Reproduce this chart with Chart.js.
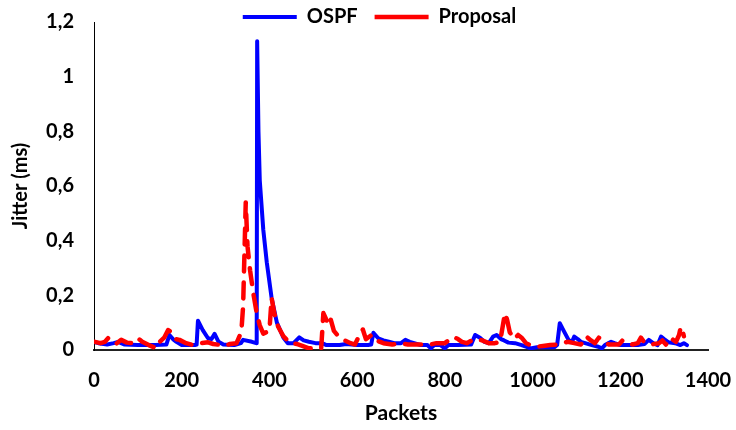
<!DOCTYPE html>
<html>
<head>
<meta charset="utf-8">
<script src="https://cdn.jsdelivr.net/npm/chart.js@4.4.1/dist/chart.umd.min.js"></script>
<style>
    html, body { margin: 0; padding: 0; background: #fff; }
    #wrap { width: 736px; height: 430px; }
</style>
</head>
<body>
<div id="wrap"><canvas id="jitter-chart" width="736" height="430"></canvas></div>
<script>
// Jitter per packet, OSPF vs. proposed routing

const ospfPackets = [
    0, 10, 30, 45, 55, 70, 100, 140, 165, 172, 180, 188, 200, 230, 234, 237, 248, 260, 268, 275,
    284, 295, 320, 335, 340, 360, 370, 371, 372, 375, 378, 386, 394, 405, 417, 432, 442, 455, 468, 478,
    490, 505, 520, 530, 560, 575, 600, 625, 632, 637, 648, 660, 672, 685, 700, 710, 720, 730, 745, 760,
    768, 776, 790, 800, 808, 830, 860, 869, 880, 890, 900, 910, 918, 928, 935, 945, 960, 975, 985, 995,
    1010, 1050, 1056, 1062, 1072, 1082, 1090, 1095, 1103, 1110, 1120, 1135, 1150, 1158, 1165, 1179, 1187, 1200, 1240, 1255,
    1265, 1275, 1285, 1293, 1300, 1310, 1325, 1337, 1345, 1352
];
const ospfJitter = [
    0.03, 0.025, 0.02, 0.025, 0.03, 0.02, 0.018, 0.018, 0.02, 0.055, 0.04, 0.03, 0.018, 0.018, 0.02, 0.107, 0.073, 0.043, 0.04, 0.059,
    0.03, 0.02, 0.018, 0.025, 0.037, 0.03, 0.025, 0.03, 1.13, 0.8, 0.62, 0.44, 0.32, 0.19, 0.10, 0.045, 0.025, 0.025, 0.046, 0.035,
    0.03, 0.025, 0.025, 0.018, 0.018, 0.022, 0.018, 0.018, 0.02, 0.063, 0.043, 0.035, 0.03, 0.025, 0.025, 0.037, 0.03, 0.025, 0.018, 0.018,
    0.006, 0.018, 0.018, 0.006, 0.018, 0.018, 0.02, 0.055, 0.045, 0.03, 0.025, 0.049, 0.055, 0.04, 0.035, 0.027, 0.025, 0.018, 0.012, 0.006,
    0.01, 0.01, 0.018, 0.098, 0.067, 0.037, 0.03, 0.049, 0.04, 0.03, 0.025, 0.018, 0.012, 0.006, 0.018, 0.03, 0.025, 0.018, 0.018, 0.022,
    0.037, 0.025, 0.018, 0.049, 0.04, 0.028, 0.025, 0.018, 0.025, 0.018
];

const proposalPackets = [
    0, 15, 25, 32, 40, 50, 62, 75, 88, 100, 110, 125, 142, 150, 160, 169, 176, 185, 195, 210,
    225, 245, 260, 272, 290, 298, 310, 325, 336, 340, 346, 350, 356, 363, 371, 378, 386, 400, 405, 411,
    420, 432, 447, 462, 475, 490, 505, 518, 523, 530, 535, 540, 547, 560, 572, 585, 595, 607, 613, 620,
    633, 644, 660, 680, 700, 716, 743, 760, 781, 800, 819, 830, 839, 850, 864, 875, 885, 900, 914, 926,
    937, 942, 948, 958, 967, 975, 985, 994, 1010, 1024, 1040, 1055, 1069, 1080, 1095, 1110, 1122, 1133, 1142, 1151,
    1163, 1174, 1185, 1197, 1205, 1213, 1228, 1240, 1247, 1254, 1270, 1288, 1296, 1304, 1315, 1322, 1327, 1334, 1338, 1342,
    1345
];
const proposalJitter = [
    0.03, 0.025, 0.03, 0.043, 0.03, 0.022, 0.037, 0.027, 0.025, 0.043, 0.03, 0.018, 0.006, 0.03, 0.045, 0.073, 0.065, 0.04, 0.037, 0.025,
    0.018, 0.025, 0.028, 0.022, 0.018, 0.015, 0.022, 0.025, 0.067, 0.16, 0.54, 0.38, 0.29, 0.21, 0.135, 0.09, 0.06, 0.07, 0.19, 0.135,
    0.085, 0.05, 0.025, 0.022, 0.015, 0.006, 0.006, 0.006, 0.135, 0.11, 0.09, 0.11, 0.07, 0.045, 0.035, 0.025, 0.02, 0.06, 0.075, 0.04,
    0.055, 0.035, 0.025, 0.02, 0.025, 0.02, 0.02, 0.018, 0.025, 0.025, 0.048, 0.04, 0.03, 0.025, 0.037, 0.04, 0.035, 0.025, 0.025, 0.03,
    0.135, 0.11, 0.065, 0.04, 0.055, 0.045, 0.025, 0.018, 0.012, 0.015, 0.018, 0.02, 0.025, 0.03, 0.025, 0.02, 0.05, 0.035, 0.025, 0.045,
    0.03, 0.02, 0.02, 0.02, 0.035, 0.028, 0.02, 0.025, 0.045, 0.03, 0.02, 0.025, 0.035, 0.02, 0.045, 0.035, 0.03, 0.055, 0.085, 0.07,
    0.05
];

const seriesNames = ['OSPF', 'Proposal'];
const yTickLabels = ['0', '0,2', '0,4', '0,6', '0,8', '1', '1,2'];
const xTickLabels = ['0', '200', '400', '600', '800', '1000', '1200', '1400'];

const FONT = 'Lato, "Open Sans", sans-serif';

function toPoints(xs, ys) {
    return xs.map((x, i) => ({ x: x, y: ys[i] }));
}

// Legend sits partly over the top of the plot and a bit right of centre
const legendPlacement = {
    id: 'legendPlacement',
    afterLayout(chart) {
        const legend = chart.legend;
        legend.left += 51;
        legend.bottom += 16;
    }
};

const ctx = document.getElementById('jitter-chart');

new Chart(ctx, {
    type: 'line',
    data: {
        datasets: [
            {
                label: seriesNames[0],
                data: toPoints(ospfPackets, ospfJitter),
                borderColor: '#0000ff',
                backgroundColor: '#0000ff',
                borderWidth: 4,
                pointRadius: 0,
                pointStyle: 'line',
                tension: 0,
                borderJoinStyle: 'round',
                borderCapStyle: 'round',
                order: 1
            },
            {
                label: seriesNames[1],
                data: toPoints(proposalPackets, proposalJitter),
                borderColor: '#ff0000',
                backgroundColor: '#ff0000',
                borderWidth: 4.5,
                borderDash: [16, 11],
                borderCapStyle: 'round',
                borderJoinStyle: 'round',
                pointRadius: 0,
                pointStyle: 'line',
                tension: 0,
                order: 0
            }
        ]
    },
    options: {
        responsive: false,
        animation: false,
        events: [],
        layout: {
            padding: { left: 0, right: 28, top: -10, bottom: 0 }
        },
        plugins: {
            tooltip: { enabled: false },
            legend: {
                display: true,
                position: 'top',
                maxHeight: 32,
                labels: {
                    usePointStyle: true,
                    pointStyleWidth: 54,
                    boxHeight: 4,
                    padding: 17,
                    color: '#000',
                    font: { family: FONT, size: 20, weight: 'bold' },
                    sort: (a, b) => a.datasetIndex - b.datasetIndex
                }
            }
        },
        scales: {
            x: {
                type: 'linear',
                min: 0,
                max: 1400,
                afterFit: (scale) => { scale.height = 80; },
                afterBuildTicks: (scale) => {
                    scale.ticks = xTickLabels.map(t => ({ value: Number(t) }));
                },
                grid: { display: false, drawTicks: false },
                border: { display: true, color: '#222', width: 2 },
                ticks: {
                    padding: 4,
                    color: '#000',
                    maxRotation: 0,
                    // tall line box pushes the labels down without widening the side margin
                    font: { family: FONT, size: 20, weight: 'bold', lineHeight: 2.7 },
                    callback: (value, index) => xTickLabels[index]
                },
                title: {
                    display: true,
                    text: 'Packets',
                    color: '#000',
                    padding: { top: 0, bottom: 4 },
                    font: { family: FONT, size: 21, weight: 'bold' }
                }
            },
            y: {
                type: 'linear',
                min: 0,
                max: 1.2,
                afterFit: (scale) => { scale.width = 94; },
                afterBuildTicks: (scale) => {
                    scale.ticks = yTickLabels.map((t, i) => ({ value: i * 0.2 }));
                },
                grid: { display: false, drawTicks: false },
                border: { display: true, color: '#000', width: 1 },
                ticks: {
                    padding: 20,
                    color: '#000',
                    font: { family: FONT, size: 20, weight: 'bold', lineHeight: 0.2 },
                    callback: (value, index) => yTickLabels[index]
                },
                title: {
                    display: true,
                    text: 'Jitter (ms)',
                    color: '#000',
                    padding: { top: 9, bottom: 0 },
                    font: { family: FONT, size: 20, weight: 'bold' }
                }
            }
        }
    },
    plugins: [legendPlacement]
});
</script>
</body>
</html>
